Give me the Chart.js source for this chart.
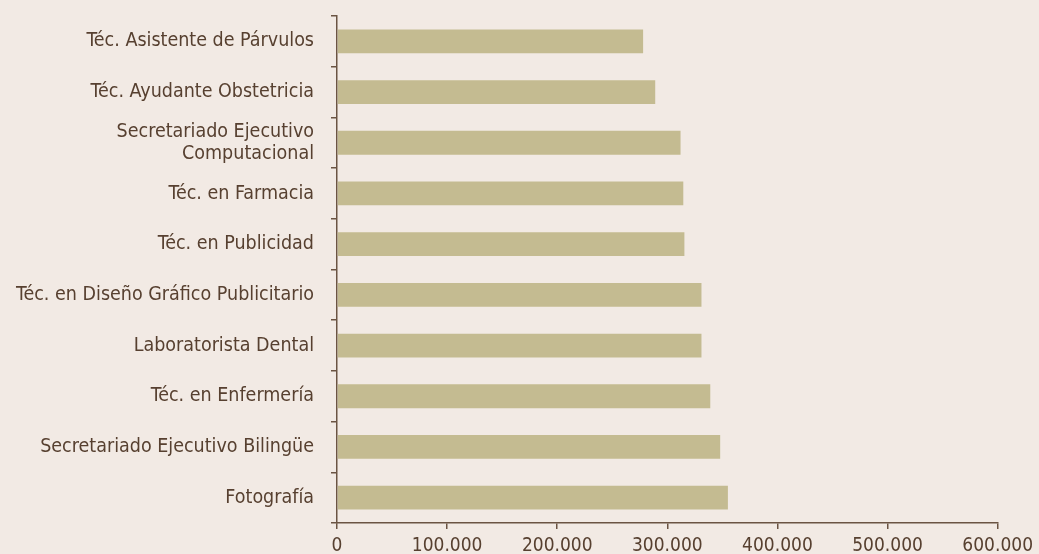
<!DOCTYPE html>
<html>
<head>
    <meta charset="UTF-8">
    <title>Remuneraciones por carrera</title>
    <script src="https://cdn.jsdelivr.net/npm/chart.js"></script>
    <style>
        html, body {
            margin: 0;
            padding: 0;
            background: #f2eae4;
        }

        #wrap {
            width: 1039px;
            height: 554px;
            position: relative;
        }
    </style>
</head>
<body>
<div id="wrap">
    <canvas id="salaryChart"></canvas>
</div>

<script>
    // carreras, de arriba hacia abajo
    var carreras = [
        'Téc. Asistente de Párvulos',
        'Téc. Ayudante Obstetricia',
        ['Secretariado Ejecutivo', 'Computacional'],
        'Téc. en Farmacia',
        'Téc. en Publicidad',
        'Téc. en Diseño Gráfico Publicitario',
        'Laboratorista Dental',
        'Téc. en Enfermería',
        'Secretariado Ejecutivo Bilingüe',
        'Fotografía'
    ];

    // ingreso (pesos)
    var ingresos = [278000, 289000, 312000, 314500, 315500, 331000, 331000, 339000, 348000, 355000];

    var ejeMin = 0;
    var ejeMax = 600000;
    var ejePaso = 100000;

    var brown = '#6b5443';
    var textBrown = '#574030';
    var fuente = "'DejaVu Sans Condensed', 'DejaVu Sans', sans-serif";

    var ctx = document.getElementById('salaryChart').getContext('2d');
    var salaryChart = new Chart(ctx, {
        type: 'bar',
        data: {
            labels: carreras,
            datasets: [{
                data: ingresos,
                backgroundColor: '#c4bb91',
                borderWidth: 0,
                categoryPercentage: 1,
                barPercentage: 0.47
            }]
        },
        options: {
            indexAxis: 'y',
            responsive: true,
            maintainAspectRatio: false,
            animation: false,
            layout: {
                padding: { top: 16, right: 0, left: 0, bottom: 0 }
            },
            plugins: {
                legend: { display: false },
                tooltip: { enabled: false }
            },
            scales: {
                x: {
                    min: ejeMin,
                    max: ejeMax,
                    ticks: {
                        stepSize: ejePaso,
                        color: textBrown,
                        padding: 6,
                        maxRotation: 0,
                        font: { family: fuente, size: 19 },
                        callback: function (v) {
                            return v.toLocaleString('de-DE');
                        }
                    },
                    grid: {
                        drawOnChartArea: false,
                        color: brown,
                        lineWidth: 1.5,
                        tickLength: 6
                    },
                    border: { color: brown, width: 1.5 },
                    afterFit: function (scale) { scale.height = 31; }
                },
                y: {
                    ticks: {
                        color: textBrown,
                        padding: 17,
                        font: { family: fuente, size: 19.5, lineHeight: 1.16 }
                    },
                    grid: {
                        drawOnChartArea: false,
                        offset: true,
                        color: brown,
                        lineWidth: 1.5,
                        tickLength: 6
                    },
                    border: { color: brown, width: 1.5 },
                    afterFit: function (scale) {
                        scale.width = 337;
                        scale.paddingTop = 0;
                        scale.paddingBottom = 0;
                    }
                }
            }
        }
    });
</script>
</body>
</html>
